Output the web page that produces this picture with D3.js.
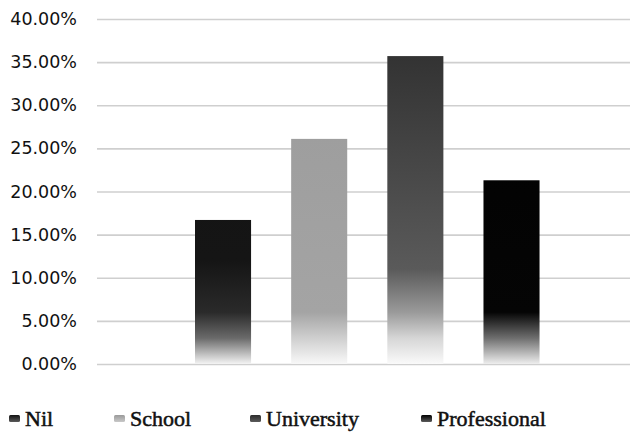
<!DOCTYPE html>
<html>
<head>
<meta charset="utf-8">
<script src="https://cdn.jsdelivr.net/npm/d3@7"></script>
<style>
  html, body { margin: 0; padding: 0; background: #fff; }
  svg { display: block; }
</style>
</head>
<body>
<div id="chart"></div>
<script>
const SERIES = ["Nil", "School", "University", "Professional"];
const VALUES = [0.167, 0.261, 0.357, 0.213];
const TICKS = [0, 0.05, 0.1, 0.15, 0.2, 0.25, 0.3, 0.35, 0.4];

// gradient stops per series: [value, colour], top solid colour fading to white at the base
const FADES = [
  [[0.40, "#121212"], [0.12, "#151515"], [0.06, "#2a2a2a"], [0.03, "#6a6a6a"], [0.0, "#f4f4f4"]],
  [[0.40, "#9a9a9a"], [0.06, "#a4a4a4"], [0.03, "#cfcfcf"], [0.0, "#f8f8f8"]],
  [[0.40, "#2c2c2c"], [0.11, "#5a5a5a"], [0.06, "#9a9a9a"], [0.03, "#d6d6d6"], [0.0, "#fafafa"]],
  [[0.40, "#000000"], [0.06, "#050505"], [0.03, "#6e6e6e"], [0.0, "#eeeeee"]]
];

const width = 630, height = 432;
const svg = d3.select("#chart").append("svg")
  .attr("width", width).attr("height", height);

const y = d3.scaleLinear().domain([0, 0.4]).range([364, 19]);
const x = d3.scaleBand().domain(SERIES).range([97, 630])
  .paddingInner(0.417).paddingOuter(0.98).align(0.52);

const defs = svg.append("defs");
SERIES.forEach((s, i) => {
  const g = defs.append("linearGradient")
    .attr("id", "grad" + i)
    .attr("gradientUnits", "userSpaceOnUse")
    .attr("x1", 0).attr("x2", 0)
    .attr("y1", y(0.4)).attr("y2", y(0));
  FADES[i].forEach(([v, c]) => {
    g.append("stop").attr("offset", (1 - v / 0.4)).attr("stop-color", c);
  });
  // legend swatch gradient (bounding box)
  const lg = defs.append("linearGradient")
    .attr("id", "lgrad" + i)
    .attr("x1", 0).attr("x2", 0).attr("y1", 0).attr("y2", 1);
  lg.append("stop").attr("offset", 0).attr("stop-color", FADES[i][0][1]);
  lg.append("stop").attr("offset", 1).attr("stop-color", i === 1 ? "#c8c8c8" : "#5a5a5a");
});

// gridlines + tick labels
const yAxis = d3.axisLeft(y).tickValues(TICKS)
  .tickFormat(d => (d * 100).toFixed(2) + "%")
  .tickSize(-(630 - 97)).tickPadding(20);

svg.append("g")
  .attr("transform", "translate(97,0)")
  .call(yAxis)
  .call(g => g.select(".domain").remove())
  .call(g => g.selectAll(".tick line")
    .attr("stroke", "#cfcfcf").attr("stroke-width", 1.6))
  .call(g => g.selectAll(".tick text")
    .attr("fill", "#111")
    .style("font-family", "'DejaVu Sans', Verdana, sans-serif")
    .style("font-size", "17.5px"));

// bars
svg.selectAll(".bar")
  .data(SERIES)
  .enter()
  .append("rect")
  .attr("class", "bar")
  .attr("x", d => x(d))
  .attr("width", x.bandwidth())
  .attr("y", (d, i) => y(VALUES[i]))
  .attr("height", (d, i) => y(0) - y(VALUES[i]))
  .attr("fill", (d, i) => `url(#grad${i})`);

// legend
const LEGEND_X = [9, 114, 250, 421];
const legend = svg.append("g").attr("class", "legend");
SERIES.forEach((s, i) => {
  const item = legend.append("g").attr("transform", `translate(${LEGEND_X[i]},0)`);
  item.append("rect")
    .attr("x", 0).attr("y", 415)
    .attr("width", 11).attr("height", 7)
    .attr("rx", 1.5)
    .attr("fill", `url(#lgrad${i})`);
  item.append("text")
    .attr("x", 16).attr("y", 426)
    .attr("fill", "#111")
    .attr("stroke", "#111")
    .attr("stroke-width", 0.5)
    .style("font-family", "'Liberation Serif', 'Times New Roman', serif")
    .style("font-size", "22px")
    .text(s);
});
</script>
</body>
</html>
